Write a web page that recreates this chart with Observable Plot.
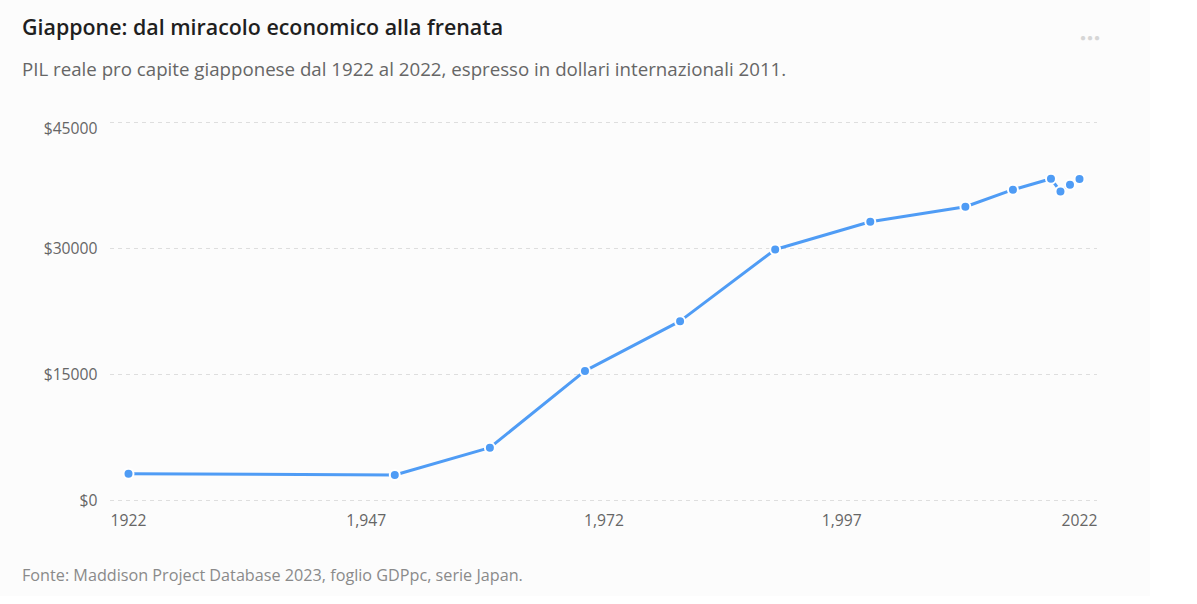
<!DOCTYPE html>
<html>
<head>
<meta charset="utf-8">
<script src="https://cdn.jsdelivr.net/npm/d3@7"></script>
<script src="https://cdn.jsdelivr.net/npm/@observablehq/plot@0.6"></script>
<style>
  html, body { margin: 0; padding: 0; background: #ffffff; }
  #card { position: absolute; left: 0; top: 0; width: 1150px; height: 596px; background: #fcfcfc; font-family: "Open Sans", "Noto Sans", sans-serif; }
  #title { position: absolute; left: 22px; top: 12px; font-size: 21.4px; font-weight: 600; color: #1f1f1f; white-space: nowrap; }
  #subtitle { position: absolute; left: 22px; top: 56px; font-size: 18.7px; color: #666666; white-space: nowrap; }
  #dots { position: absolute; left: 1080px; top: 30px; font-size: 10px; color: #d6d6d6; letter-spacing: 1px; }
  #chart { position: absolute; left: 0; top: 100px; }
  #caption { position: absolute; left: 22px; top: 564px; font-size: 16.2px; color: #8a8a8a; white-space: nowrap; }
</style>
</head>
<body>
<div id="card">
  <div id="title">Giappone: dal miracolo economico alla frenata</div>
  <div id="subtitle">PIL reale pro capite giapponese dal 1922 al 2022, espresso in dollari internazionali 2011.</div>
  <div id="dots">●●●</div>
  <div id="chart"></div>
  <div id="caption">Fonte: Maddison Project Database 2023, foglio GDPpc, serie Japan.</div>
</div>
<script>
const years = [1922, 1950, 1960, 1970, 1980, 1990, 2000, 2010, 2015, 2019, 2020, 2021, 2022];
const gdp   = [3190, 3040, 6290, 15430, 21350, 29880, 33180, 34970, 37000, 38300, 36800, 37600, 38270];
const xTicks = [1922, 1947, 1972, 1997, 2022];
const xTickLabels = ["1922", "1,947", "1,972", "1,997", "2022"];
const yTicks = [0, 15000, 30000, 45000];
const yTickLabels = ["$0", "$15000", "$30000", "$45000"];

const data = years.map((y, i) => ({year: y, value: gdp[i]}));
const blue = "#4f9cf5";
const yFmt = (d) => yTickLabels[yTicks.indexOf(d)];
const yMax = yTicks[yTicks.length - 1];

const chart = Plot.plot({
  width: 1150,
  height: 440,
  marginLeft: 110,
  marginRight: 53,
  marginTop: 22,
  marginBottom: 40,
  style: { fontFamily: "'Open Sans', 'Noto Sans', sans-serif", fontSize: "15.7px", color: "#666666", background: "transparent" },
  x: { domain: [1922, 2022], inset: 18 },
  y: { domain: [0, 45000] },
  marks: [
    Plot.gridY(yTicks, { stroke: "#dedede", strokeOpacity: 1, strokeDasharray: "4,4", strokeWidth: 1 }),
    Plot.axisY(yTicks.filter((d) => d !== yMax), { tickSize: 0, tickPadding: 13, tickFormat: yFmt, label: null, fontSize: 15.7, fill: "#666666" }),
    Plot.axisY([yMax], { tickSize: 0, tickPadding: 13, tickFormat: yFmt, label: null, fontSize: 15.7, fill: "#666666", dy: 6 }),
    Plot.axisX(xTicks, { tickSize: 0, tickPadding: 14, tickFormat: (d) => xTickLabels[xTicks.indexOf(d)], label: null, fontSize: 15.7, fill: "#666666" }),
    Plot.line(data, { x: "year", y: "value", stroke: blue, strokeWidth: 3 }),
    Plot.dot(data, { x: "year", y: "value", r: 5, fill: blue, stroke: "#ffffff", strokeWidth: 2 })
  ]
});
document.getElementById("chart").appendChild(chart);
</script>
</body>
</html>
